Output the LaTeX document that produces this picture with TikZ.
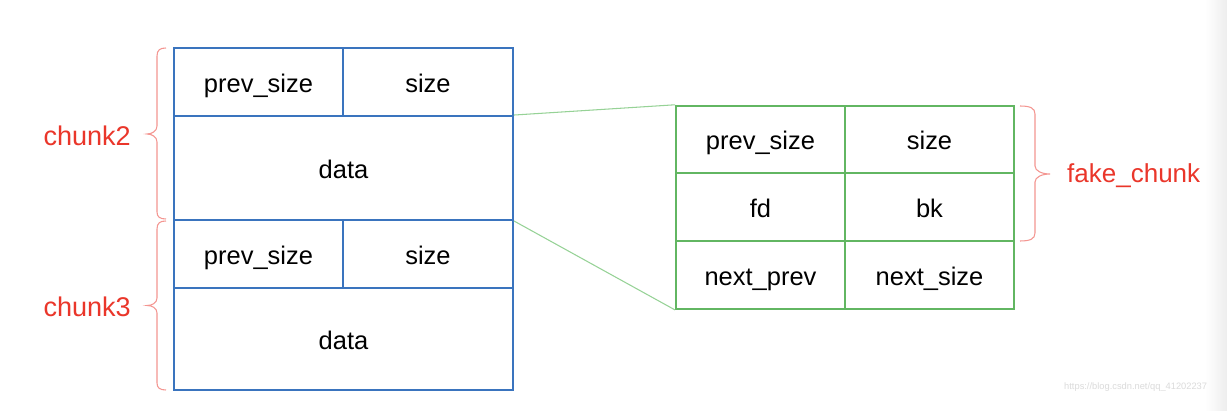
\documentclass[tikz,border=0pt]{standalone}
\usepackage{fontspec}
\setmainfont{Liberation Sans}

\definecolor{chunkblue}{RGB}{58,116,190}
\definecolor{fakegreen}{RGB}{98,182,98}
\definecolor{linkgreen}{RGB}{150,210,150}
\definecolor{labelred}{RGB}{234,54,42}
\definecolor{bracered}{RGB}{244,150,145}

\tikzset{
	cell/.style={draw,line width=1.1pt,inner sep=0pt,text height=13.5pt,text depth=2pt,font=\fontsize{14.5}{17}\selectfont},
	bluecell/.style={cell,draw=chunkblue},
	greencell/.style={cell,draw=fakegreen},
	chunklabel/.style={text=labelred,font=\fontsize{15.4}{18}\selectfont},
	bracepath/.style={draw=bracered,line width=0.6pt}
}

\begin{document}
\begin{tikzpicture}[x=0.02cm,y=-0.02cm]
\useasboundingbox[fill=white] (0,0) rectangle (1227,411);
\shade[left color=white,right color=black!7] (1205,0) rectangle (1227,411);

% chunk2 and chunk3
\node[bluecell,minimum width=3.39cm,minimum height=1.36cm] (prev2) at (258.5,82) {prev\_size};
\node[bluecell,minimum width=3.39cm,minimum height=1.36cm] (size2) at (428,82) {size};
\node[bluecell,minimum width=6.78cm,minimum height=2.08cm] (data2) at (343.5,168) {data};
\node[bluecell,minimum width=3.39cm,minimum height=1.36cm] (prev3) at (258.5,254) {prev\_size};
\node[bluecell,minimum width=3.39cm,minimum height=1.36cm] (size3) at (428,254) {size};
\node[bluecell,minimum width=6.78cm,minimum height=2.04cm] (data3) at (343.5,339) {data};

% fake chunk
\node[greencell,minimum width=3.38cm,minimum height=1.35cm] (fprev) at (760.5,139.5) {prev\_size};
\node[greencell,minimum width=3.38cm,minimum height=1.35cm] (fsize) at (929.5,139.5) {size};
\node[greencell,minimum width=3.38cm,minimum height=1.36cm] (ffd) at (760.5,207) {fd};
\node[greencell,minimum width=3.38cm,minimum height=1.36cm] (fbk) at (929.5,207) {bk};
\node[greencell,minimum width=3.38cm,minimum height=1.36cm] (fnprev) at (760.5,275) {next\_prev};
\node[greencell,minimum width=3.38cm,minimum height=1.36cm] (fnsize) at (929.5,275) {next\_size};

\draw[linkgreen,line width=0.6pt] (data2.north east) -- (fprev.north west);
\draw[linkgreen,line width=0.6pt] (data2.south east) -- (fnprev.south west);

% braces
\draw[bracepath] (166,48) .. controls (160,48) and (157,50) .. (157,56) -- (157,126)
	.. controls (157,131) and (152,134) .. (147,134) .. controls (152,134) and (157,137) .. (157,142)
	-- (157,212) .. controls (157,217) and (160,219) .. (166,219);
\draw[bracepath] (166,221) .. controls (160,221) and (157,223) .. (157,229) -- (157,298)
	.. controls (157,303) and (152,305.5) .. (147,305.5) .. controls (152,305.5) and (157,308) .. (157,313)
	-- (157,383) .. controls (157,388) and (160,390) .. (166,390);
\draw[bracepath] (1020,106) .. controls (1030,106) and (1035,108) .. (1035,114) -- (1035,166)
	.. controls (1035,171) and (1042,174) .. (1050,174) .. controls (1042,174) and (1035,177) .. (1035,182)
	-- (1035,233) .. controls (1035,239) and (1030,241) .. (1020,241);

\node[chunklabel,anchor=east] (chunk2) at (137,136) {chunk2};
\node[chunklabel,anchor=east] (chunk3) at (137,307) {chunk3};
\node[chunklabel,anchor=west,font=\fontsize{14.8}{18}\selectfont] (fake) at (1061,176) {fake\_chunk};

\node[text=black!14,font=\fontsize{5.3}{6}\selectfont,anchor=west] (mark) at (1058,387) {https://blog.csdn.net/qq\_41202237};
\end{tikzpicture}
\end{document}
